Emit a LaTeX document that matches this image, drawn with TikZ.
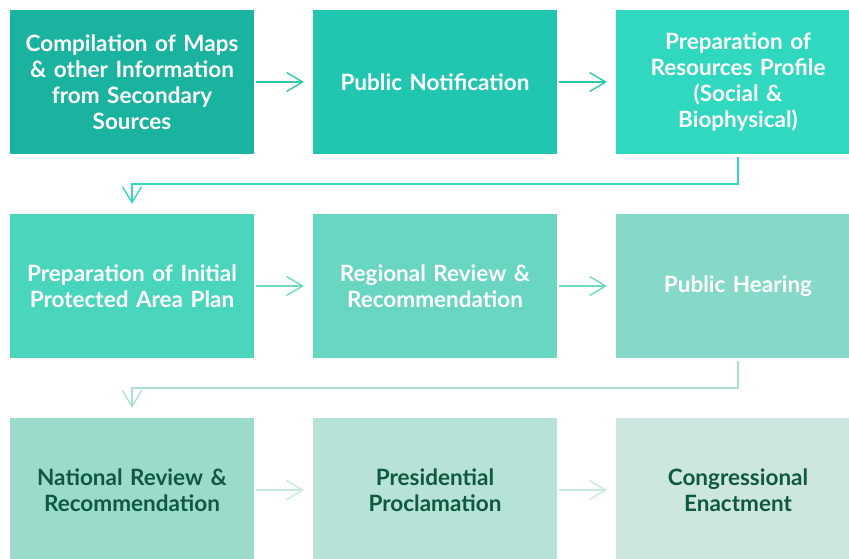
\documentclass[tikz,border=0pt]{standalone}
\usepackage{fontspec}
\setmainfont{Lato}
\usepackage{tikz}
\usetikzlibrary{arrows.meta, positioning}

\definecolor{boxA}{HTML}{1AB3A0}
\definecolor{boxB}{HTML}{21C6B0}
\definecolor{boxC}{HTML}{30D8C0}
\definecolor{boxD}{HTML}{4AD6BD}
\definecolor{boxE}{HTML}{68D6C0}
\definecolor{boxF}{HTML}{86D9C8}
\definecolor{boxG}{HTML}{9BDBCB}
\definecolor{boxH}{HTML}{B6E2D8}
\definecolor{boxI}{HTML}{CEE6E0}
\definecolor{darkgreen}{HTML}{0E5940}
\definecolor{lineA}{HTML}{2DC8B0}
\definecolor{lineB}{HTML}{35D9C2}
\definecolor{lineC}{HTML}{6EDAC3}
\definecolor{lineD}{HTML}{A9E2D4}
\definecolor{lineE}{HTML}{C6EAE1}

\begin{document}
\begin{tikzpicture}[x=1pt, y=-1pt, >={Straight Barb[length=16pt, width=19pt]}]

    % Define styles
    \tikzstyle{stage} = [rectangle, minimum width=244pt, minimum height=144pt, text width=238pt, inner sep=0pt, outer sep=0pt, align=center, font=\fontsize{22.5}{26}\selectfont\bfseries, text=white]
    \tikzstyle{flow} = [->, line width=1.4pt, shorten <=2pt, shorten >=9pt]
    \tikzstyle{turn} = [->, line width=1.4pt, shorten <=3pt, shorten >=10pt]

    \useasboundingbox (0,0) rectangle (849,559);

    % Nodes
    \node (compile) [stage, fill=boxA] at (132,82) {Compilation of Maps\\ \& other Information\\ from Secondary\\ Sources};
    \node (notify) [stage, fill=boxB, right=59pt of compile] {Public Notification};
    \node (profile) [stage, fill=boxC, right=59pt of notify] {Preparation of\\ Resources Profile\\ (Social \&\\ Biophysical)};
    \node (plan) [stage, fill=boxD, below=60pt of compile] {Preparation of Initial\\ Protected Area Plan};
    \node (regional) [stage, fill=boxE, right=59pt of plan] {Regional Review \&\\ Recommendation};
    \node (hearing) [stage, fill=boxF, right=59pt of regional] {Public Hearing};
    \node (national) [stage, fill=boxG, text=darkgreen, below=60pt of plan] {National Review \&\\ Recommendation};
    \node (proclaim) [stage, fill=boxH, text=darkgreen, right=59pt of national] {Presidential\\ Proclamation};
    \node (enact) [stage, fill=boxI, text=darkgreen, right=59pt of proclaim] {Congressional\\ Enactment};

    % Arrows
    \draw [flow, lineA] (compile) -- (notify);
    \draw [flow, lineA] (notify) -- (profile);
    \draw [turn, lineB] (profile.south) -- ++(0,30) -| (plan.north);
    \draw [flow, lineC] (plan) -- (regional);
    \draw [flow, lineC] (regional) -- (hearing);
    \draw [turn, lineD] (hearing.south) -- ++(0,30) -| (national.north);
    \draw [flow, lineE] (national) -- (proclaim);
    \draw [flow, lineE] (proclaim) -- (enact);

\end{tikzpicture}
\end{document}
